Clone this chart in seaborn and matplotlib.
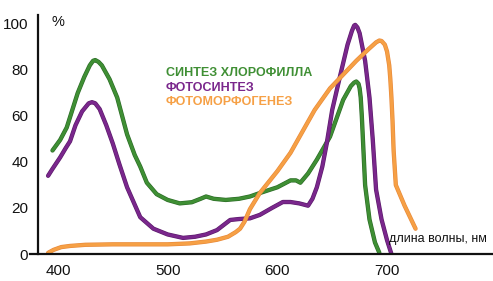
import numpy as np
import pandas as pd
import matplotlib
matplotlib.use("Agg")
import matplotlib.pyplot as plt
import matplotlib.patheffects as pe
import seaborn as sns

# длины волн (нм) и значения (%) для каждой кривой
green_wl = [395, 402, 408, 414, 418, 424, 429, 432, 434, 437, 440, 447, 454, 463, 470, 475,
            481, 490, 500, 511, 522, 530, 535, 542, 553, 565, 575, 584, 600, 612, 617, 621,
            628, 636, 648, 660, 667, 670, 672, 674, 675, 676, 677, 678, 680, 684, 689, 693]
green_val = [45, 49.6, 55, 64, 70, 77, 82, 84, 84.3, 83.5, 82, 76, 68, 52, 43, 38,
             31, 26, 23.5, 22, 22.5, 24, 25, 24, 23.5, 24, 25, 26.5, 29, 32, 32, 31,
             35, 41, 51, 67, 73, 74.5, 75, 74, 72, 68, 60, 50, 30, 15, 5, 0.5]

purple_wl = [391, 395, 402, 407, 411, 416, 422, 428, 431, 434, 438, 444, 450, 456, 463, 475,
             487, 500, 514, 525, 535, 545, 557, 565, 575, 584, 595, 605, 612, 620, 628, 632,
             636, 641, 645, 650, 657, 664, 668, 670, 671, 673, 675, 680, 684, 687, 690, 695,
             700, 704]
purple_val = [34, 37, 42, 46, 49, 56, 62, 65.5, 66, 65.5, 63, 56, 48, 39, 29, 16,
              11, 8.5, 7, 7.5, 8.5, 10.4, 14.8, 15.2, 15.5, 17, 20, 22.6, 22.6, 22, 21, 24,
              29, 38, 48, 62.6, 77, 91, 97, 99.3, 99.6, 98.5, 96, 84, 68, 49.6, 28, 15,
              6, 0]

orange_wl = [391, 396, 403, 411, 425, 450, 475, 500, 520, 535, 545, 555, 562, 566, 570,
             575, 584, 600, 612, 625, 634, 648, 660, 672, 683, 690, 693, 695, 698, 700,
             702, 703, 704, 705, 706, 708, 716, 726]
orange_val = [0.5, 1.8, 3, 3.5, 4, 4.2, 4.2, 4.2, 4.6, 5.4, 6.2, 7.5, 9.5, 11, 14,
              19.5, 26.5, 36, 44, 55, 62.6, 72, 78, 84, 89, 92, 92.8, 92.6, 91, 88,
              82, 76, 68, 58, 45, 30, 21, 11]

labels = ["СИНТЕЗ ХЛОРОФИЛЛА", "ФОТОСИНТЕЗ", "ФОТОМОРФОГЕНЕЗ"]
colors = ["#3f8f34", "#7a278c", "#f6a045"]
edge_colors = ["#2b6b26", "#5a1a6a", "#e8893a"]

x_ticks = [400, 500, 600, 700]
y_ticks = [0, 20, 40, 60, 80, 100]

df = pd.concat([
    pd.DataFrame({"wl": green_wl, "val": green_val, "series": labels[0]}),
    pd.DataFrame({"wl": purple_wl, "val": purple_val, "series": labels[1]}),
    pd.DataFrame({"wl": orange_wl, "val": orange_val, "series": labels[2]}),
])

sns.set_style("white")
plt.rcParams['font.family'] = ['Liberation Sans Narrow', 'Liberation Sans', 'DejaVu Sans']

fig = plt.figure(figsize=(4.93, 2.81), dpi=100)
ax = fig.add_axes([30 / 493, 27 / 281, 463 / 493, 239 / 281])

sns.lineplot(data=df, x="wl", y="val", hue="series", palette=dict(zip(labels, colors)),
             estimator=None, sort=False, linewidth=2.2, legend=False, ax=ax)

# тёмная окантовка линий, как на печатной картинке
for line, ec in zip(ax.lines, edge_colors):
    line.set_path_effects([pe.Stroke(linewidth=3.1, foreground=ec), pe.Normal()])
    line.set_solid_joinstyle("round")

ax.set_xlim(374.5, 796.6)
ax.set_ylim(0, 103.9)
ax.spines["left"].set_position(("data", 381.8))
ax.spines["top"].set_visible(False)
ax.spines["right"].set_visible(False)
for s in ["left", "bottom"]:
    ax.spines[s].set_linewidth(1.6)
    ax.spines[s].set_color("#111111")

ax.set_xticks(x_ticks)
ax.set_yticks(y_ticks)
ax.tick_params(axis="both", direction="out", length=5, width=1.3, colors="#111111",
               labelsize=11, pad=2)
ax.set_xlabel("")
ax.set_ylabel("")

fig.text(52 / 493, 1 - 22 / 281, "%", fontsize=10.5, color="#111111", va="center")
fig.text(389 / 493, 1 - 239 / 281, "длина волны, нм", fontsize=9, color="#111111",
         va="center")

for i, (lab, c) in enumerate(zip(labels, colors)):
    fig.text(166 / 493, 1 - (73 + 14.5 * i) / 281, lab, fontsize=9, fontweight="bold",
             color=c, va="center")

fig.savefig("out.png", dpi=100, facecolor="white")
